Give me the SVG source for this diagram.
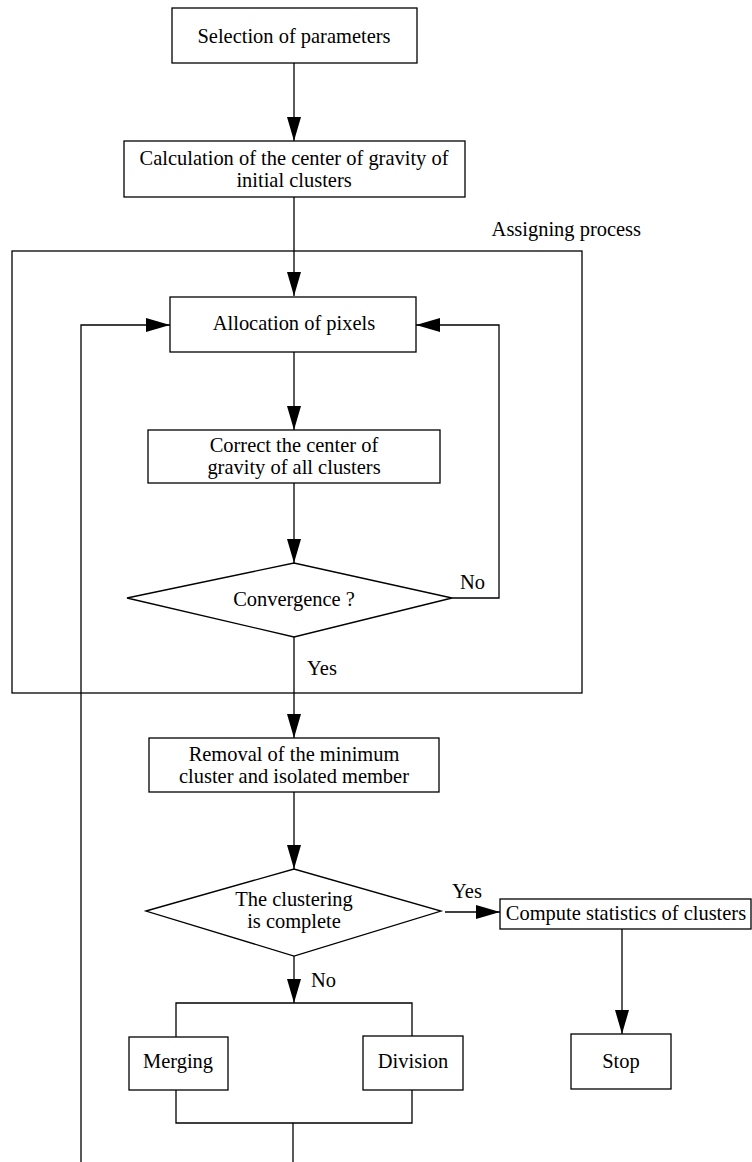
<svg xmlns="http://www.w3.org/2000/svg" width="752" height="1162" viewBox="0 0 752 1162" font-family="'Liberation Serif','Times New Roman',serif">
<defs>
<style>
.box{fill:#fff;stroke:#000;stroke-width:1.3}
.ln{fill:none;stroke:#000;stroke-width:1.3}
.arr{marker-end:url(#ah)}
text{font-family:"Liberation Serif","Times New Roman",serif;font-size:22px;fill:#000;transform-box:fill-box;transform-origin:center;transform:scaleX(0.93)}
.c{text-anchor:middle}
</style>
<marker id="ah" markerUnits="userSpaceOnUse" markerWidth="24" markerHeight="14" refX="24" refY="7" orient="auto">
<path d="M0,0 L24,7 L0,14 z" fill="#000"/>
</marker>
</defs>
<rect width="752" height="1162" fill="#fff"/>
<g id="assigning-process">
<rect class="ln" x="12" y="251" width="570" height="442"/>
<text x="486" y="236">Assigning process</text>
</g>
<g id="connectors">
<path class="ln arr" d="M294 63 L294 141"/>
<path class="ln arr" d="M294 197 L294 296"/>
<path class="ln arr" d="M294 352 L294 430"/>
<path class="ln arr" d="M294 483 L294 563"/>
<path class="ln arr" d="M452 598 L499 598 L499 325 L416 325"/>
<path class="ln arr" d="M294 637 L294 738"/>
<path class="ln arr" d="M294 792 L294 869"/>
<path class="ln arr" d="M445 912 L500 912"/>
<path class="ln arr" d="M622 929 L622 1034"/>
<path class="ln arr" d="M294 956 L294 1003"/>
<path class="ln" d="M176 1037 L176 1003 L412 1003 L412 1036"/>
<path class="ln" d="M176 1090 L176 1123 L412 1123 L412 1090"/>
<path class="ln" d="M293 1123 L293 1162"/>
<path class="ln arr" d="M81 1162 L81 325 L170 325"/>
<text x="459" y="589">No</text>
<text x="306" y="675">Yes</text>
<text x="451" y="898">Yes</text>
<text x="310" y="987">No</text>
</g>
<g id="selection">
<rect class="box" x="172" y="8" width="245" height="55"/>
<text class="c" x="294" y="43">Selection of parameters</text>
</g>
<g id="calculation">
<rect class="box" x="124" y="141" width="341" height="56"/>
<text class="c" x="294" y="165">Calculation of the center of gravity of<tspan x="294" y="187">initial clusters</tspan></text>
</g>
<g id="allocation">
<rect class="box" x="170" y="297" width="246" height="55"/>
<text class="c" x="294" y="330">Allocation of pixels</text>
</g>
<g id="correct">
<rect class="box" x="148" y="430" width="292" height="53"/>
<text class="c" x="294" y="452">Correct the center of<tspan x="294" y="474">gravity of all clusters</tspan></text>
</g>
<g id="convergence">
<polygon class="box" points="127,598 294,563 452,598 294,637"/>
<text class="c" x="294" y="606">Convergence ?</text>
</g>
<g id="removal">
<rect class="box" x="149" y="738" width="290" height="54"/>
<text class="c" x="294" y="761">Removal of the minimum<tspan x="294" y="783">cluster and isolated member</tspan></text>
</g>
<g id="clustering-complete">
<polygon class="box" points="146,911 294,869 441,911 294,956"/>
<text class="c" x="294" y="906">The clustering<tspan x="294" y="928">is complete</tspan></text>
</g>
<g id="compute">
<rect class="box" x="500" y="899" width="251" height="30"/>
<text class="c" x="626" y="920">Compute statistics of clusters</text>
</g>
<g id="stop">
<rect class="box" x="571" y="1034" width="100" height="55"/>
<text class="c" x="621" y="1068">Stop</text>
</g>
<g id="merging">
<rect class="box" x="129" y="1037" width="99" height="53"/>
<text class="c" x="178" y="1068">Merging</text>
</g>
<g id="division">
<rect class="box" x="363" y="1036" width="100" height="54"/>
<text class="c" x="413" y="1068">Division</text>
</g>
</svg>
